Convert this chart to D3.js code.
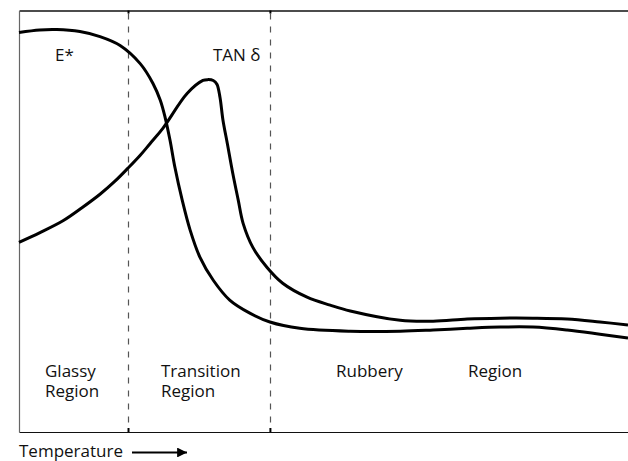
<!DOCTYPE html>
<html>
<head>
<meta charset="utf-8">
<script src="https://cdn.jsdelivr.net/npm/d3@7"></script>
<style>
  body { margin: 0; background: #fff; }
  svg text { font-family: "Open Sans", sans-serif; font-size: 17px; fill: #111; }
</style>
</head>
<body>
<div id="chart"></div>
<script>
// temperature (0-100, arbitrary) vs. relative value (0-100)
var temps = [0, 3.4, 6.2, 10.0, 13.3, 16.6, 19.9, 22.0, 23.2, 24.0, 24.8, 25.6, 26.8, 28.1, 29.7, 31.9, 34.6, 37.9, 41.2, 46.1, 54.4, 62.6, 68.0, 73.6, 79.0, 84.4, 90.0, 95.4, 100]
var modulus = [94.8, 95.4, 95.5, 95.0, 93.8, 91.7, 87.4, 82.7, 78.7, 74.6, 69.2, 62.8, 55.0, 47.9, 41.5, 36.0, 31.3, 28.2, 26.1, 24.6, 23.9, 23.9, 24.2, 24.6, 24.9, 24.9, 24.2, 23.2, 22.3]

var tanTemps = [0, 3.45, 7.22, 10.34, 13.3, 15.76, 17.9, 19.87, 21.51, 23.65, 27.6, 30.2, 31.0, 31.9, 32.5, 33.0, 33.5, 34.2, 35.1, 36.0, 36.8, 38.4, 40.7, 43.3, 47.3, 51.1, 54.4, 62.6, 68.0, 73.6, 79.0, 84.4, 90.0, 95.4, 100]
var tanDelta = [45.0, 47.3, 50.1, 53.2, 56.4, 59.5, 62.6, 65.6, 68.4, 72.1, 80.3, 83.4, 83.6, 83.4, 82.5, 79.4, 73.9, 68.5, 61.4, 55.0, 49.5, 43.8, 39.1, 35.3, 32.0, 30.1, 28.7, 26.5, 26.3, 26.8, 27.0, 27.0, 26.8, 26.1, 25.4]

// region boundaries (temperature units)
var boundaries = [17.9, 41.2]
var curveLabels = ["E*", "TAN δ"]

var width = 628
var height = 461
var margin = { top: 10.5, right: 0, bottom: 29, left: 19 }

var svg = d3.select("#chart")
  .append("svg")
  .attr("width", width)
  .attr("height", height)

var xScale = d3.scaleLinear()
  .domain([0, 100])
  .range([margin.left, width - margin.right])

var yScale = d3.scaleLinear()
  .domain([0, 100])
  .range([height - margin.bottom, margin.top])

// dashed region dividers
svg.selectAll(".divider")
  .data(boundaries)
  .enter()
  .append("line")
  .attr("class", "divider")
  .attr("x1", d => Math.round(xScale(d)) + 0.5)
  .attr("x2", d => Math.round(xScale(d)) + 0.5)
  .attr("y1", margin.top + 3)
  .attr("y2", height - margin.bottom - 4)
  .attr("stroke", "#555")
  .attr("stroke-width", 1.2)
  .attr("stroke-dasharray", "6,7")

// top border with small ticks at the dividers
svg.append("g")
  .attr("transform", `translate(0,${margin.top})`)
  .call(d3.axisBottom(xScale).tickValues(boundaries).tickSize(3).tickFormat("").tickSizeOuter(0))
  .call(g => g.select(".domain").attr("stroke", "#111").attr("stroke-width", 1.6))
  .call(g => g.selectAll(".tick line").attr("stroke-width", 2))

// bottom border
svg.append("g")
  .attr("transform", `translate(0,${height - margin.bottom})`)
  .call(d3.axisTop(xScale).tickValues(boundaries).tickSize(4).tickFormat("").tickSizeOuter(0))
  .call(g => g.select(".domain").attr("stroke", "#111").attr("stroke-width", 1.2))
  .call(g => g.selectAll(".tick line").attr("stroke-width", 2))

// left border
svg.append("g")
  .attr("transform", `translate(${margin.left},0)`)
  .call(d3.axisLeft(yScale).tickValues([]).tickSizeOuter(0))
  .call(g => g.select(".domain").attr("stroke", "#666").attr("stroke-width", 1.2))

var line = d3.line()
  .x(d => xScale(d[0]))
  .y(d => yScale(d[1]))
  .curve(d3.curveCatmullRom.alpha(0.5))

svg.append("path")
  .datum(d3.zip(temps, modulus))
  .attr("d", line)
  .attr("fill", "none")
  .attr("stroke", "#000")
  .attr("stroke-width", 3)

svg.append("path")
  .datum(d3.zip(tanTemps, tanDelta))
  .attr("d", line)
  .attr("fill", "none")
  .attr("stroke", "#000")
  .attr("stroke-width", 3)

// curve labels
svg.append("text").attr("x", 55).attr("y", 61).text(curveLabels[0])
svg.append("text").attr("x", 213).attr("y", 61).text(curveLabels[1])

// region labels
var regions = [
  { lines: ["Glassy", "Region"], x: 45 },
  { lines: ["Transition", "Region"], x: 161 },
  { lines: ["Rubbery"], x: 336 },
  { lines: ["Region"], x: 468 }
]

regions.forEach(r => {
  var t = svg.append("text").attr("x", r.x).attr("y", 377)
  r.lines.forEach((l, i) => {
    t.append("tspan").attr("x", r.x).attr("dy", i === 0 ? 0 : 19.5).text(l)
  })
})

// x axis title with arrow
svg.append("text").attr("x", 19).attr("y", 457).text("Temperature")

svg.append("defs").append("marker")
  .attr("id", "arrow")
  .attr("viewBox", "0 0 10 10")
  .attr("refX", 10).attr("refY", 5)
  .attr("markerWidth", 4.5).attr("markerHeight", 4.5)
  .attr("markerUnits", "strokeWidth")
  .attr("orient", "auto")
  .append("path")
  .attr("d", "M0,0 L10,5 L0,10 Z")
  .attr("fill", "#000")

svg.append("line")
  .attr("x1", 132).attr("x2", 187)
  .attr("y1", 452.5).attr("y2", 452.5)
  .attr("stroke", "#000")
  .attr("stroke-width", 2.2)
  .attr("marker-end", "url(#arrow)")
</script>
</body>
</html>
